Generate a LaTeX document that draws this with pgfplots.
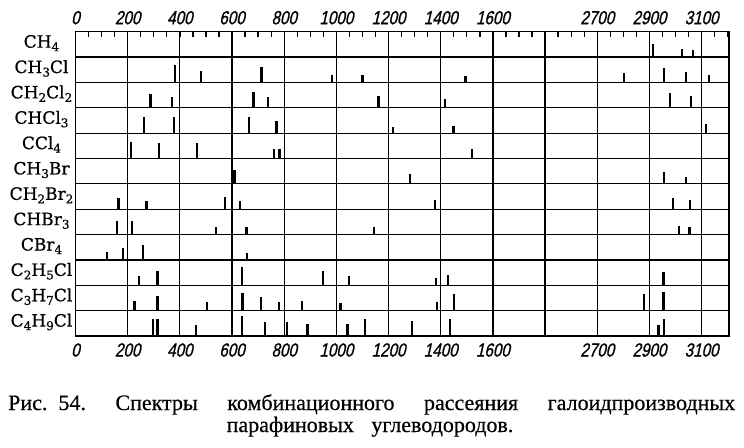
\documentclass[border=0pt]{standalone}
\usepackage{fontspec}
\usepackage{pgfplots}
\usepackage{pgfplotstable}
\pgfplotsset{compat=1.18}
\setmainfont{Liberation Serif}
\newfontfamily\labfont[FakeBold=0.6]{DejaVu Serif}
\newfontfamily\tickfont[FakeStretch=0.8, FakeSlant=0.22, FakeBold=0.9]{Liberation Sans}
\newfontfamily\capfont[FakeBold=0.5]{Liberation Serif}
\newcommand{\sub}[1]{\raisebox{-3.5pt}{\fontsize{12}{12}\selectfont #1}}
\newcommand{\xbreak}{\thisrow{x}>2000 ? \thisrow{x}-700 : \thisrow{x}}

% Raman lines: x = shift (cm^-1), h = relative line height (fraction of row)
\pgfplotstableread{
x h
2913 0.52
3026 0.30
3067 0.28
}\tCHiv
\pgfplotstableread{
x h
381 0.68
482 0.45
713 0.62
982 0.29
1100 0.31
1495 0.26
2803 0.37
2955 0.56
3039 0.43
3127 0.30
}\tCHiiiCl
\pgfplotstableread{
x h
287 0.56
371 0.43
682 0.62
737 0.42
1162 0.45
1416 0.35
2978 0.58
3058 0.45
}\tCHiiClii
\pgfplotstableread{
x h
262 0.63
378 0.63
665 0.65
771 0.49
1217 0.26
1449 0.30
3117 0.37
}\tCHCliii
\pgfplotstableread{
x h
213 0.65
320 0.60
467 0.63
760 0.39
782 0.39
1521 0.37
}\tCCliv
\pgfplotstableread{
x h
610 0.56
1282 0.37
2956 0.46
3040 0.28
}\tCHiiiBr
\pgfplotstableread{
x h
165 0.46
272 0.33
572 0.49
631 0.33
1378 0.35
2990 0.46
3056 0.38
}\tCHiiBrii
\pgfplotstableread{
x h
160 0.55
216 0.55
538 0.30
656 0.30
1144 0.31
3014 0.34
3053 0.31
}\tCHBriii
\pgfplotstableread{
x h
122 0.33
183 0.47
260 0.58
658 0.26
}\tCBriv
\pgfplotstableread{
x h
243 0.37
314 0.55
638 0.74
948 0.57
1049 0.35
1381 0.29
1429 0.40
2954 0.54
}\tCiiHvCl
\pgfplotstableread{
x h
226 0.39
314 0.58
504 0.35
640 0.71
710 0.55
781 0.33
869 0.39
1016 0.30
1385 0.33
1452 0.65
2880 0.65
2954 0.74
}\tCiiiHviiCl
\pgfplotstableread{
x h
297 0.69
314 0.69
463 0.43
637 0.79
727 0.56
810 0.56
889 0.47
1043 0.47
1110 0.67
1291 0.60
1435 0.69
2935 0.43
2956 0.67
}\tCivHixCl

\begin{document}
\begin{tikzpicture}
\useasboundingbox (0,0) rectangle (744pt,-447pt);
\pgfplotsset{
  spec/.style={quiver={u=0,v=\thisrow{h}}, black, line width=2.3pt},
  base/.style={at={(75.5pt,-336pt)}, anchor=south west, scale only axis,
    width=653.5pt, height=304.3pt, xmin=0, xmax=2505, ymin=0, ymax=12,
    xtick={0,200,...,2400},
    xticklabels={0,200,400,600,800,1000,1200,1400,1600,{},2700,2900,3100},
    xticklabel style={font=\tickfont\fontsize{19}{19}\selectfont, anchor=center}},
}
\begin{axis}[base,
  xticklabel style={yshift=-14pt},
  xtick style={draw=none},
  ytick={1,...,11}, yticklabels={}, ytick style={draw=none},
  xmajorgrids, ymajorgrids,
  major grid style={black, line width=1.2pt},
  axis line style={black, line width=1.4pt},
]
\addplot[spec] table[x expr={\xbreak}, y expr=11] {\tCHiv};
\addplot[spec] table[x expr={\xbreak}, y expr=10] {\tCHiiiCl};
\addplot[spec] table[x expr={\xbreak}, y expr=9] {\tCHiiClii};
\addplot[spec] table[x expr={\xbreak}, y expr=8] {\tCHCliii};
\addplot[spec] table[x expr={\xbreak}, y expr=7] {\tCCliv};
\addplot[spec] table[x expr={\xbreak}, y expr=6] {\tCHiiiBr};
\addplot[spec] table[x expr={\xbreak}, y expr=5] {\tCHiiBrii};
\addplot[spec] table[x expr={\xbreak}, y expr=4] {\tCHBriii};
\addplot[spec] table[x expr={\xbreak}, y expr=3] {\tCBriv};
\addplot[spec] table[x expr={\xbreak}, y expr=2] {\tCiiHvCl};
\addplot[spec] table[x expr={\xbreak}, y expr=1] {\tCiiiHviiCl};
\addplot[spec] table[x expr={\xbreak}, y expr=0] {\tCivHixCl};
\end{axis}
\begin{axis}[base,
  axis x line*=top, axis y line*=left,
  y axis line style={draw=none},
  x axis line style={black, line width=1.4pt},
  xticklabel style={yshift=14pt},
  major tick length=0pt,
  minor xtick={0,50,...,2500},
  minor tick length=5pt, tick align=inside,
  minor tick style={black, line width=1.3pt},
  ytick={0.37,1.37,2.37,3.37,4.37,5.37,6.37,7.37,8.37,9.37,10.37,11.37},
  yticklabels={C\sub{4}H\sub{9}Cl, C\sub{3}H\sub{7}Cl, C\sub{2}H\sub{5}Cl, CBr\sub{4}, CHBr\sub{3}, CH\sub{2}Br\sub{2}, CH\sub{3}Br, CCl\sub{4}, CHCl\sub{3}, CH\sub{2}Cl\sub{2}, CH\sub{3}Cl, CH\sub{4}},
  yticklabel style={font=\labfont\fontsize{17}{17}\selectfont, anchor=base, xshift=-34pt},
  ytick style={draw=none},
]
\end{axis}
\node[anchor=base west, inner sep=0] at (8pt,-410pt) {\capfont\fontsize{22}{22}\selectfont\makebox[727pt][l]{Рис.\hspace{11pt}54.\hfill Спектры\hfill комбинационного\hfill рассеяния\hfill галоидпроизводных}};
\node[anchor=base, inner sep=0] at (370pt,-432pt) {\capfont\fontsize{22}{22}\selectfont парафиновых\hspace{12pt} углеводородов.};
\end{tikzpicture}
\end{document}
